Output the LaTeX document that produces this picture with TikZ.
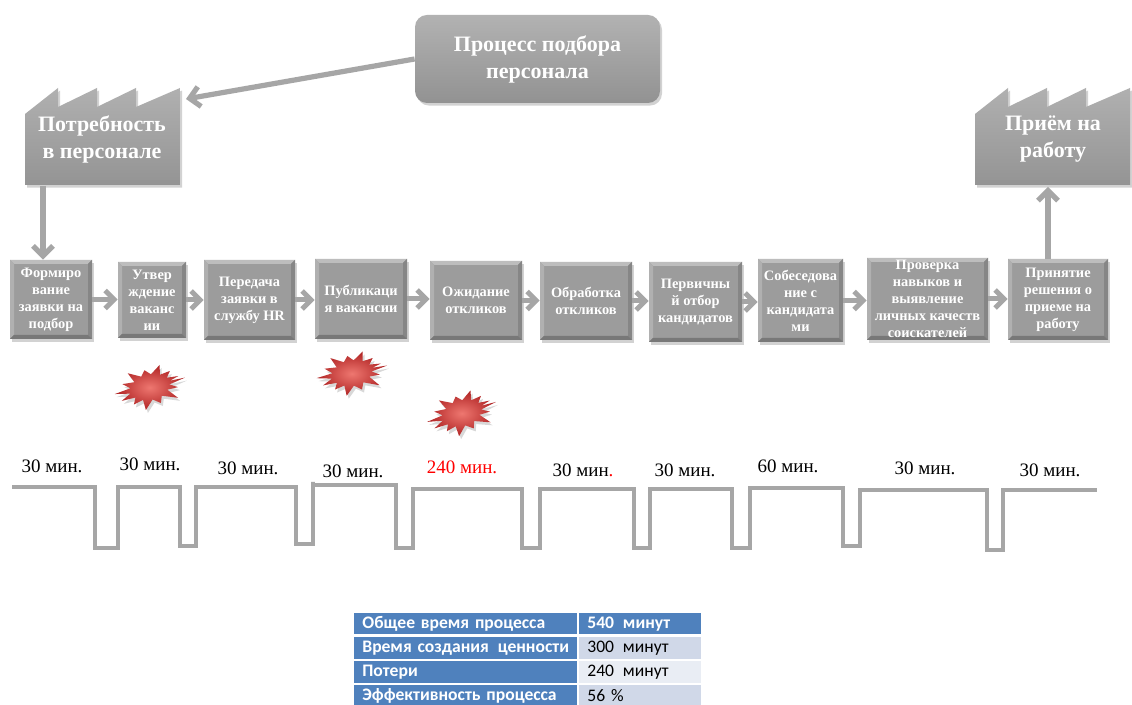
\documentclass[tikz,border=0pt]{standalone}
\usepackage{fontspec}
\setmainfont{Liberation Serif}
\newfontfamily\tablefont{Carlito}
\usetikzlibrary{arrows.meta,shadows}

\definecolor{boxgray}{HTML}{9C9C9C}
\definecolor{bevtop}{HTML}{BDBDBD}
\definecolor{bevleft}{HTML}{B0B0B0}
\definecolor{bevright}{HTML}{868686}
\definecolor{bevbottom}{HTML}{787878}
\definecolor{headtop}{HTML}{B2B2B2}
\definecolor{headbot}{HTML}{929292}
\definecolor{facttop}{HTML}{B0B0B0}
\definecolor{factbot}{HTML}{949494}
\definecolor{arrgray}{HTML}{A6A6A6}
\definecolor{linegray}{HTML}{A6A6A6}
\definecolor{tblue}{HTML}{4F81BD}
\definecolor{tpale}{HTML}{D0D8E8}
\definecolor{tpaler}{HTML}{E9EDF4}
\definecolor{burstlight}{HTML}{EE7770}
\definecolor{burstdark}{HTML}{B02424}

\tikzset{
  softshadow/.style={drop shadow={opacity=0.35, shadow xshift=1pt, shadow yshift=-1.3pt}},
  bevelbox/.style={fill=boxgray, path picture={
      \path (path picture bounding box.north west) coordinate (bNW)
            (path picture bounding box.north east) coordinate (bNE)
            (path picture bounding box.south west) coordinate (bSW)
            (path picture bounding box.south east) coordinate (bSE);
      \fill[bevtop] (bNW) -- (bNE) -- ([shift={(-2pt,-2pt)}]bNE) -- ([shift={(2pt,-2pt)}]bNW) -- cycle;
      \fill[bevleft] (bNW) -- ([shift={(2pt,-2pt)}]bNW) -- ([shift={(2pt,2pt)}]bSW) -- (bSW) -- cycle;
      \fill[bevright] (bNE) -- (bSE) -- ([shift={(-2pt,2pt)}]bSE) -- ([shift={(-2pt,-2pt)}]bNE) -- cycle;
      \fill[bevbottom] (bSW) -- ([shift={(2pt,2pt)}]bSW) -- ([shift={(-2pt,2pt)}]bSE) -- (bSE) -- cycle;
  }},
  pbox/.style={bevelbox, softshadow, inner sep=0pt, align=center, text=white,
    font=\bfseries\fontsize{7.2}{8.5}\selectfont},
  headbox/.style={rounded corners=6pt, top color=headtop, bottom color=headbot, softshadow,
    minimum width=122.5pt, minimum height=44pt, align=center, text=white,
    font=\bfseries\fontsize{11}{13.5}\selectfont},
  facttext/.style={align=center, text=white, inner sep=0pt,
    font=\bfseries\fontsize{11}{13.5}\selectfont},
  link/.style={draw=arrgray, line width=2.5pt, -{Straight Barb[length=4.5pt,width=9pt]}},
  biglink/.style={draw=arrgray, line width=2.6pt, -{Straight Barb[length=5pt,width=10pt]}},
  timeline/.style={draw=linegray, line width=2pt},
  tlabel/.style={inner sep=0pt, font=\fontsize{9.5}{11}\selectfont},
  tcell/.style={anchor=north west, inner xsep=4pt, inner ysep=0pt, align=left,
    font=\tablefont\fontsize{8.8}{10}\selectfont},
  tleft/.style={tcell, fill=tblue, text=white, font=\tablefont\bfseries\fontsize{8.8}{10}\selectfont,
    text width=103.5pt},
  tright/.style={tcell, text width=53pt},
}

% factory outline with a saw-tooth roof; #1 = left edge
\newcommand\factoryshape[1]{%
  \path[top color=facttop, bottom color=factbot, softshadow]
    (#1,185) -- (#1,114) -- ({#1+33},88) -- ({#1+33},107) -- ({#1+72},88) -- ({#1+72},107)
    -- ({#1+111},88) -- ({#1+111},107) -- ({#1+155},88) -- ({#1+155},185) -- cycle;}

% red waste burst; #1,#2 = centre, #3 = tilt
\newcommand\burst[3]{%
  \begin{scope}[shift={(#1,#2)}, rotate=#3, xscale=36, yscale=22]
    \shade[inner color=burstlight, outer color=burstdark,
      drop shadow={opacity=0.3, shadow xshift=1pt, shadow yshift=-1.5pt}]
      (0:1) -- (12:0.55) -- (24:0.82) -- (36:0.55) -- (50:1.05) -- (64:0.58) -- (78:0.85)
      -- (92:0.58) -- (106:1.0) -- (120:0.56) -- (134:0.8) -- (148:0.55) -- (162:0.9)
      -- (174:0.58) -- (186:1.0) -- (198:0.56) -- (212:0.85) -- (226:0.55) -- (240:1.0)
      -- (254:0.58) -- (268:0.8) -- (282:0.56) -- (296:0.95) -- (310:0.55) -- (324:0.8)
      -- (338:0.56) -- (350:0.85) -- (356:0.58) -- cycle;
  \end{scope}}

\begin{document}
\begin{tikzpicture}[x=0.5pt, y=-0.5pt]
\useasboundingbox (0,0) rectangle (1132,705);
\fill[white] (0,0) rectangle (1132,705);

% header and the two factories
\node[headbox] (proc) at (537.5,59) {Процесс подбора\\персонала};
\factoryshape{25}
\factoryshape{975}
\node[facttext] (need) at (102,139) {Потребность\\в персонале};
\node[facttext] (hire) at (1053,139) {Приём на\\работу};

% process steps
\node[pbox, minimum width=41pt,   minimum height=39.5pt] (box1)  at (51,299.5)   {Формиро\\вание\\заявки на\\подбор};
\node[pbox, minimum width=34pt,   minimum height=38pt]   (box2)  at (152,300)    {Утвер\\ждение\\ваканс\\ии};
\node[pbox, minimum width=45.5pt, minimum height=40pt]   (box3)  at (249.5,300)  {Передача\\заявки в\\службу HR};
\node[pbox, minimum width=46pt,   minimum height=40pt]   (box4)  at (361,299)    {Публикаци\\я вакансии};
\node[pbox, minimum width=46pt,   minimum height=39.5pt] (box5)  at (476,300.5)  {Ожидание\\откликов};
\node[pbox, minimum width=46pt,   minimum height=39pt]   (box6)  at (586,301)    {Обработка\\откликов};
\node[pbox, minimum width=46.5pt, minimum height=40pt]   (box7)  at (695.5,302)  {Первичны\\й отбор\\кандидатов};
\node[pbox, minimum width=42.5pt, minimum height=41.5pt] (box8)  at (800.5,300.5) {Собеседова\\ние с\\кандидата\\ми};
\node[pbox, minimum width=60.5pt, minimum height=41pt]   (box9)  at (927.5,299)  {Проверка\\навыков и\\выявление\\личных качеств\\соискателей};
\node[pbox, minimum width=50pt,   minimum height=40.5pt] (box10) at (1058,299.5) {Принятие\\решения о\\приеме на\\работу};

% connectors
\coordinate (needpeak) at (186,99);
\coordinate (needfoot) at (43,186);
\coordinate (hirefoot) at (1048,187);
\draw[biglink] (proc.west) -- (needpeak);
\draw[biglink] (needfoot) -- (needfoot |- box1.north);
\draw[biglink] (hirefoot |- box10.north) -- (hirefoot);
\foreach \a/\b in {box1/box2, box2/box3, box3/box4, box4/box5, box5/box6,
                   box6/box7, box7/box8, box8/box9, box9/box10}
  \draw[link] (\a.east) -- (\a.east -| \b.west);

% waste bursts
\burst{150}{387}{15}
\burst{352}{373}{12}
\burst{462}{413}{18}

% time line
\draw[timeline] (12,487) -- (95,487) -- (95,548) -- (118,548) -- (118,487)
  -- (180,487) -- (180,546) -- (196,546) -- (196,487) -- (296,487) -- (296,544)
  -- (313,544) -- (313,482) -- (313,485) -- (396,485) -- (396,548) -- (413,548) -- (413,489)
  -- (522,489) -- (522,548) -- (540,548) -- (540,489) -- (634,489) -- (634,548)
  -- (650,548) -- (650,489) -- (732,489) -- (732,548) -- (750,548) -- (750,488)
  -- (843,488) -- (843,546) -- (860,546) -- (860,490) -- (987,490) -- (987,550)
  -- (1003,550) -- (1003,490) -- (1097,490);

\node[tlabel] (t1)  at (52,466)   {30 мин.};
\node[tlabel] (t2)  at (150,464)  {30 мин.};
\node[tlabel] (t3)  at (248,468)  {30 мин.};
\node[tlabel] (t4)  at (353,471)  {30 мин.};
\node[tlabel, text=red] (t5) at (462,467) {240 мин.};
\node[tlabel] (t6)  at (583,470)  {30 мин\textcolor{red}{.}};
\node[tlabel] (t7)  at (685,470)  {30 мин.};
\node[tlabel] (t8)  at (788,466)  {60 мин.};
\node[tlabel] (t9)  at (925,468)  {30 мин.};
\node[tlabel] (t10) at (1050,470) {30 мин.};

% summary table
\node[tleft, minimum height=10.5pt] (r1a) at (354,613) {Общее время процесса};
\node[tright, fill=tblue, text=white, font=\tablefont\bfseries\fontsize{8.8}{10}\selectfont,
      minimum height=10.5pt] (r1b) at (579,613) {540\enspace минут};
\node[tleft, minimum height=11pt] (r2a) at (354,637) {Время создания\enspace ценности};
\node[tright, fill=tpale, minimum height=11pt] (r2b) at (579,637) {300\enspace минут};
\node[tleft, minimum height=11pt] (r3a) at (354,661) {Потери};
\node[tright, fill=tpaler, minimum height=11pt] (r3b) at (579,661) {240\enspace минут};
\node[tleft, minimum height=10.5pt] (r4a) at (354,685) {Эффективность процесса};
\node[tright, fill=tpale, minimum height=10.5pt] (r4b) at (579,685) {56 \%};
\end{tikzpicture}
\end{document}
